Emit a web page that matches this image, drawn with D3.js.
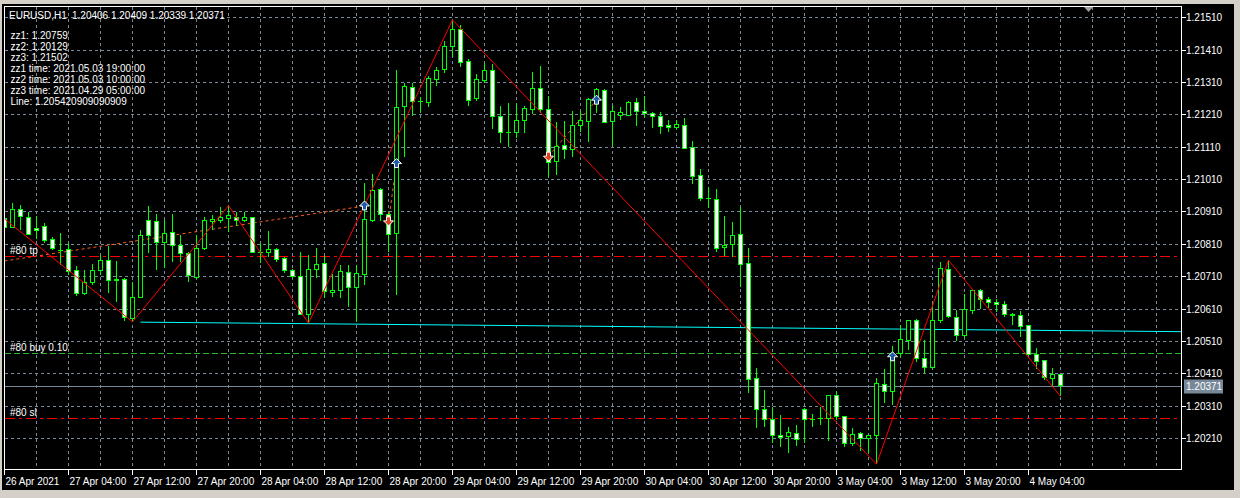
<!DOCTYPE html>
<html><head><meta charset="utf-8">
<script src="https://cdn.jsdelivr.net/npm/d3@7"></script>
<style>
html,body{margin:0;padding:0;background:#000;overflow:hidden;}
svg{display:block;}
text{font-family:"Liberation Sans",Arial,sans-serif;font-size:10px;fill:#fff;}
</style></head><body>
<svg id="c" width="1240" height="498"></svg>
<script>
// ---- data ----
const symbolName = "EURUSD,H1";
const symbolQuote = "1.20406 1.20409 1.20339 1.20371";
const commentLines = ["zz1: 1.20759","zz2: 1.20129","zz3: 1.21502","zz1 time: 2021.05.03 19:00:00","zz2 time: 2021.05.03 10:00:00","zz3 time: 2021.04.29 05:00:00","Line: 1.205420909090909"];
const opens = [1.20889,1.20861,1.20915,1.20892,1.20858,1.20865,1.20824,1.20792,1.20793,1.20729,1.20657,1.20691,1.20727,1.20757,1.20701,1.20700,1.20580,1.20645,1.20881,1.20878,1.20813,1.20846,1.20806,1.20781,1.20706,1.20796,1.20878,1.20882,1.20889,1.20890,1.20882,1.20892,1.20785,1.20784,1.20793,1.20765,1.20729,1.20708,1.20592,1.20731,1.20750,1.20660,1.20667,1.20721,1.20676,1.20716,1.20882,1.20979,1.20902,1.20843,1.21234,1.21294,1.21250,1.21246,1.21319,1.21350,1.21419,1.21473,1.21372,1.21258,1.21316,1.21347,1.21205,1.21156,1.21155,1.21190,1.21226,1.21291,1.21226,1.21064,1.21113,1.21102,1.21176,1.21187,1.21257,1.21283,1.21187,1.21207,1.21208,1.21248,1.21220,1.21213,1.21205,1.21177,1.21169,1.21176,1.21108,1.21020,1.20950,1.20948,1.20799,1.20809,1.20840,1.20750,1.20395,1.20299,1.20266,1.20219,1.20214,1.20225,1.20299,1.20269,1.20270,1.20271,1.20340,1.20276,1.20194,1.20225,1.20209,1.20217,1.20376,1.20355,1.20472,1.20511,1.20572,1.20456,1.20427,1.20572,1.20731,1.20583,1.20526,1.20603,1.20665,1.20637,1.20630,1.20623,1.20593,1.20589,1.20558,1.20467,1.20448,1.20395,1.20406];
const highs = [1.20915,1.20935,1.20930,1.20909,1.20896,1.20873,1.20832,1.20843,1.20812,1.20742,1.20729,1.20748,1.20776,1.20803,1.20757,1.20704,1.20693,1.20853,1.20927,1.20902,1.20884,1.20902,1.20837,1.20786,1.20837,1.20892,1.20899,1.20925,1.20928,1.20909,1.20909,1.20894,1.20813,1.20850,1.20796,1.20770,1.20732,1.20784,1.20776,1.20796,1.20772,1.20716,1.20745,1.20745,1.20745,1.20999,1.21026,1.20982,1.20904,1.21347,1.21308,1.21308,1.21263,1.21329,1.21357,1.21438,1.21502,1.21486,1.21380,1.21335,1.21370,1.21366,1.21236,1.21244,1.21246,1.21236,1.21340,1.21360,1.21267,1.21187,1.21190,1.21220,1.21220,1.21260,1.21292,1.21287,1.21239,1.21234,1.21251,1.21262,1.21267,1.21218,1.21218,1.21193,1.21193,1.21198,1.21129,1.21040,1.20987,1.20979,1.20896,1.20877,1.20925,1.20796,1.20425,1.20358,1.20305,1.20281,1.20245,1.20250,1.20302,1.20284,1.20305,1.20342,1.20356,1.20278,1.20242,1.20230,1.20219,1.20396,1.20422,1.20494,1.20559,1.20575,1.20578,1.20513,1.20628,1.20755,1.20759,1.20606,1.20654,1.20670,1.20670,1.20647,1.20639,1.20633,1.20595,1.20602,1.20559,1.20489,1.20451,1.20425,1.20409];
const lows = [1.20856,1.20859,1.20853,1.20837,1.20824,1.20813,1.20791,1.20745,1.20714,1.20649,1.20652,1.20683,1.20714,1.20657,1.20631,1.20573,1.20569,1.20643,1.20781,1.20729,1.20734,1.20755,1.20755,1.20693,1.20702,1.20791,1.20853,1.20873,1.20848,1.20866,1.20878,1.20781,1.20752,1.20770,1.20755,1.20721,1.20705,1.20590,1.20565,1.20704,1.20644,1.20647,1.20642,1.20614,1.20568,1.20683,1.20878,1.20882,1.20786,1.20652,1.21077,1.21206,1.21213,1.21234,1.21298,1.21337,1.21388,1.21357,1.21236,1.21251,1.21306,1.21164,1.21122,1.21110,1.21136,1.21152,1.21211,1.21213,1.21017,1.21023,1.21071,1.21079,1.21156,1.21126,1.21215,1.21183,1.21112,1.21193,1.21205,1.21174,1.21198,1.21167,1.21149,1.21156,1.21164,1.21102,1.20995,1.20942,1.20920,1.20786,1.20772,1.20770,1.20678,1.20350,1.20240,1.20245,1.20194,1.20181,1.20165,1.20185,1.20194,1.20243,1.20250,1.20202,1.20266,1.20181,1.20185,1.20171,1.20163,1.20129,1.20319,1.20312,1.20461,1.20482,1.20446,1.20412,1.20422,1.20566,1.20580,1.20510,1.20518,1.20593,1.20609,1.20611,1.20600,1.20583,1.20559,1.20523,1.20467,1.20422,1.20389,1.20369,1.20339];
const closes = [1.20860,1.20915,1.20894,1.20840,1.20852,1.20820,1.20796,1.20790,1.20726,1.20657,1.20692,1.20729,1.20757,1.20696,1.20697,1.20582,1.20645,1.20837,1.20835,1.20815,1.20843,1.20806,1.20781,1.20711,1.20796,1.20881,1.20884,1.20892,1.20896,1.20882,1.20892,1.20784,1.20783,1.20793,1.20762,1.20729,1.20708,1.20592,1.20731,1.20747,1.20664,1.20667,1.20724,1.20676,1.20717,1.20884,1.20976,1.20902,1.20840,1.21232,1.21296,1.21249,1.21248,1.21322,1.21347,1.21421,1.21471,1.21370,1.21254,1.21318,1.21347,1.21204,1.21155,1.21154,1.21190,1.21229,1.21291,1.21226,1.21062,1.21110,1.21102,1.21176,1.21190,1.21257,1.21288,1.21186,1.21220,1.21217,1.21248,1.21218,1.21213,1.21203,1.21172,1.21169,1.21180,1.21105,1.21017,1.20949,1.20952,1.20796,1.20806,1.20837,1.20747,1.20391,1.20299,1.20266,1.20219,1.20212,1.20228,1.20206,1.20268,1.20270,1.20271,1.20340,1.20276,1.20194,1.20221,1.20209,1.20218,1.20379,1.20355,1.20451,1.20513,1.20572,1.20456,1.20427,1.20572,1.20734,1.20585,1.20526,1.20606,1.20667,1.20637,1.20629,1.20623,1.20593,1.20589,1.20556,1.20469,1.20446,1.20396,1.20405,1.20371];
const priceTicks = [1.21510,1.21410,1.21310,1.21210,1.21110,1.21010,1.20910,1.20810,1.20710,1.20610,1.20510,1.20410,1.20310,1.20210];
const priceTickLabels = ["1.21510","1.21410","1.21310","1.21210","1.21110","1.21010","1.20910","1.20810","1.20710","1.20610","1.20510","1.20410","1.20310","1.20210"];
const timeTickBars = [0,8,16,24,32,40,48,56,64,72,80,88,96,104,112,120,128];
const timeTickLabels = ["26 Apr 2021","27 Apr 04:00","27 Apr 12:00","27 Apr 20:00","28 Apr 04:00","28 Apr 12:00","28 Apr 20:00","29 Apr 04:00","29 Apr 12:00","29 Apr 20:00","30 Apr 04:00","30 Apr 12:00","30 Apr 20:00","3 May 04:00","3 May 12:00","3 May 20:00","4 May 04:00"];
const zigzagBars = [0,16,28,38,56,109,118,132];
const zigzagPrices = [1.20887,1.20569,1.20928,1.20565,1.21502,1.20129,1.20759,1.20339];
const trendBars = [17,132];
const trendPrices = [1.20568,1.20542];
const orderLevels = [1.20773,1.20473,1.20273];
const orderLabels = ["#80 tp","#80 buy 0.10","#80 sl"];
const bidPrice = 1.20371;
const bidLabel = "1.20371";
const tradeLinks = [[[0,1.20757],[45,1.20927]],[[48,1.20881],[49,1.21058]],[[68,1.21081],[74,1.21254]]];
const arrowBars = [45,48,49,68,74,111];
const arrowPrices = [1.20927,1.20881,1.21058,1.21081,1.21254,1.20461];
const arrowKinds = ["buy","sell","buy","sell","buy","buy"];

// ---- layout ----
const L = 4.5, T = 6.5, R = 1181.5, B = 469.5;
const svg = d3.select("#c");
svg.append("rect").attr("width",1240).attr("height",498).attr("fill","#000");
// window chrome
svg.append("rect").attr("x",0).attr("y",0).attr("width",1240).attr("height",4).attr("fill","#d4d0c8");
svg.append("rect").attr("x",0).attr("y",490).attr("width",1240).attr("height",8).attr("fill","#d4d0c8");
svg.append("rect").attr("x",0).attr("y",0).attr("width",2).attr("height",498).attr("fill","#d4d0c8");
svg.append("rect").attr("x",1234).attr("y",0).attr("width",6).attr("height",498).attr("fill","#d4d0c8");

const x = d3.scaleLinear().domain([0,147]).range([4.5, 4.5+147*8]);
const y = d3.scaleLinear().domain([1.20210,1.21510]).range([438.0,17.3]);

svg.append("defs").append("clipPath").attr("id","plot")
  .append("rect").attr("x",5).attr("y",7).attr("width",R-5).attr("height",B-7);

const grid = svg.append("g").attr("stroke","#778899").attr("stroke-dasharray","3,3").attr("shape-rendering","crispEdges");
priceTicks.forEach(p=>{
  const yy = Math.round(y(p))+0.5;
  grid.append("line").attr("x1",L).attr("x2",R).attr("y1",yy).attr("y2",yy);
});
d3.range(4,148,4).forEach(b=>{
  grid.append("line").attr("x1",x(b)).attr("x2",x(b)).attr("y1",T).attr("y2",B);
});

const plot = svg.append("g").attr("clip-path","url(#plot)");

// order levels
const lvlColors = ["#ff0000","#2fb52f","#ff0000"];
const lvlDash = ["10,4,3,4","6,3","10,4,3,4"];
orderLevels.forEach((p,i)=>{
  const yy = Math.round(y(p))+0.5;
  plot.append("line").attr("x1",L).attr("x2",R).attr("y1",yy).attr("y2",yy)
    .attr("stroke",lvlColors[i]).attr("stroke-dasharray",lvlDash[i]).attr("shape-rendering","crispEdges");
  svg.append("text").attr("x",10).attr("y",yy-2.5).text(orderLabels[i]);
});
// bid line
{
  const yy = Math.round(y(bidPrice))+0.5;
  plot.append("line").attr("x1",L).attr("x2",R).attr("y1",yy).attr("y2",yy).attr("stroke","#778899").attr("shape-rendering","crispEdges");
}
// trend line (ray)
{
  const slope = (trendPrices[1]-trendPrices[0])/(trendBars[1]-trendBars[0]);
  const endBar = x.invert(R);
  plot.append("line").attr("x1",x(trendBars[0])).attr("y1",y(trendPrices[0]))
    .attr("x2",R).attr("y2",y(trendPrices[0]+slope*(endBar-trendBars[0])))
    .attr("stroke","#00ffff").attr("stroke-width",1);
}
// trade links
tradeLinks.forEach(seg=>{
  plot.append("line").attr("x1",x(seg[0][0])).attr("y1",y(seg[0][1])).attr("x2",x(seg[1][0])).attr("y2",y(seg[1][1]))
    .attr("stroke","#ff5a1e").attr("stroke-dasharray","3,3").attr("stroke-width",1);
});

// candles
const cg = plot.append("g").attr("shape-rendering","crispEdges");
opens.forEach((o,i)=>{
  const c = closes[i], cx = x(i);
  cg.append("line").attr("x1",cx).attr("x2",cx).attr("y1",y(highs[i])).attr("y2",y(lows[i])).attr("stroke","#00ff00");
  const top = y(Math.max(o,c)), bot = y(Math.min(o,c));
  if (bot-top < 1.2) {
    cg.append("line").attr("x1",cx-2.5).attr("x2",cx+2.5).attr("y1",Math.round(top)+0.5).attr("y2",Math.round(top)+0.5).attr("stroke","#00ff00");
  } else {
    cg.append("rect").attr("x",cx-2).attr("width",4).attr("y",top).attr("height",bot-top)
      .attr("fill", c<o ? "#ffffff" : "#000000").attr("stroke","#00ff00");
  }
});

// zigzag
plot.append("path").datum(zigzagBars.map((b,i)=>[b,zigzagPrices[i]]))
  .attr("d", d3.line().x(d=>x(d[0])).y(d=>y(d[1])))
  .attr("fill","none").attr("stroke","#ff0000").attr("stroke-width",1);

// arrows
arrowBars.forEach((b,i)=>{
  const cx = x(b), cy = y(arrowPrices[i]);
  const buy = arrowKinds[i]==="buy";
  const d = buy
    ? "M0,-5 L5,0 L2,0 L2,4 L-2,4 L-2,0 L-5,0 Z"
    : "M0,5 L5,0 L2,0 L2,-4 L-2,-4 L-2,0 L-5,0 Z";
  plot.append("path").attr("d",d).attr("transform",`translate(${cx},${cy})`)
    .attr("fill", buy ? "#1e5aa8" : "#e0401a").attr("stroke","#ffffff").attr("stroke-width",1);
});

// frame
svg.append("rect").attr("x",L).attr("y",T).attr("width",R-L).attr("height",B-T)
  .attr("fill","none").attr("stroke","#ffffff").attr("shape-rendering","crispEdges");

// price axis
priceTicks.forEach((p,i)=>{
  const yy = Math.round(y(p))+0.5;
  svg.append("line").attr("x1",R).attr("x2",R+4).attr("y1",yy).attr("y2",yy).attr("stroke","#fff").attr("shape-rendering","crispEdges");
  svg.append("text").attr("x",1186).attr("y",yy+3.5).text(priceTickLabels[i]);
});
{
  const yy = Math.round(y(bidPrice))+0.5;
  svg.append("rect").attr("x",1184).attr("y",yy-7).attr("width",39).attr("height",14).attr("fill","#778899");
  svg.append("text").attr("x",1186).attr("y",yy+3.5).attr("fill","#e8e8e8").text(bidLabel);
}
// time axis
timeTickBars.forEach((b,i)=>{
  const xx = x(b);
  svg.append("line").attr("x1",xx).attr("x2",xx).attr("y1",B).attr("y2",B+5).attr("stroke","#fff").attr("shape-rendering","crispEdges");
  svg.append("text").attr("x",xx+1).attr("y",485).text(timeTickLabels[i]);
});
// chart shift marker
svg.append("path").attr("d","M1084,7 L1093,7 L1088.5,12 Z").attr("fill","#a0a0a0");

// header + comments
svg.append("text").attr("x",9).attr("y",19).text(symbolName);
svg.append("text").attr("x",72).attr("y",19).text(symbolQuote);
commentLines.forEach((t,i)=>{
  svg.append("text").attr("x",10.5).attr("y",38.5+i*11.15).text(t);
});
</script>
</body></html>
